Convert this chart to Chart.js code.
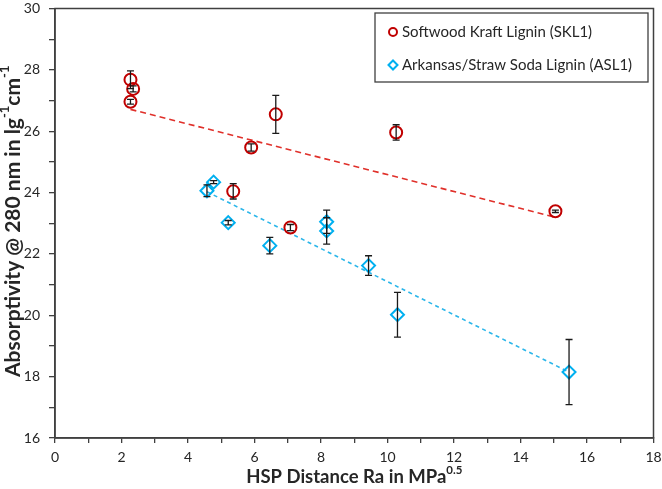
<!DOCTYPE html>
<html>
<head>
<meta charset="utf-8">
<script src="https://cdn.jsdelivr.net/npm/chart.js@4/dist/chart.umd.min.js"></script>
<style>
  html, body { margin: 0; padding: 0; background: #fff; }
  canvas { display: block; }
</style>
</head>
<body>
<canvas id="absChart" width="662" height="489"></canvas>
<script>
"use strict";

// Softwood Kraft Lignin (SKL1)
const sklX = [2.27, 2.35, 2.27, 5.90, 6.64, 5.36, 7.08, 10.26, 15.05];
const sklY = [27.68, 27.38, 26.96, 25.47, 26.55, 24.04, 22.86, 25.96, 23.39];
const sklErr = [0.29, 0.10, 0.08, 0.12, 0.62, 0.25, 0.10, 0.25, 0.04];

// Arkansas/Straw Soda Lignin (ASL1)
const aslX = [4.57, 4.77, 5.21, 6.46, 8.17, 8.17, 9.43, 10.30, 15.46];
const aslY = [24.06, 24.34, 23.02, 22.27, 23.05, 22.75, 21.62, 20.02, 18.15];
const aslErr = [0.19, 0.05, 0.07, 0.27, 0.38, 0.43, 0.32, 0.73, 1.06];

const seriesLabels = ["Softwood Kraft Lignin (SKL1)", "Arkansas/Straw Soda Lignin (ASL1)"];
const xTicks = [0, 2, 4, 6, 8, 10, 12, 14, 16, 18];
const yTicks = [16, 18, 20, 22, 24, 26, 28, 30];

const FONT = "Lato, 'Open Sans', sans-serif";

// linear trendline over the data range (like Excel)
function trend(xs, ys) {
  const n = xs.length;
  const mx = xs.reduce((a, b) => a + b, 0) / n;
  const my = ys.reduce((a, b) => a + b, 0) / n;
  let sxy = 0, sxx = 0;
  for (let i = 0; i < n; i++) {
    sxy += (xs[i] - mx) * (ys[i] - my);
    sxx += (xs[i] - mx) * (xs[i] - mx);
  }
  const m = sxy / sxx;
  const lo = Math.min(...xs), hi = Math.max(...xs);
  return [{ x: lo, y: my + m * (lo - mx) }, { x: hi, y: my + m * (hi - mx) }];
}

const pts = (xs, ys) => xs.map((x, i) => ({ x: x, y: ys[i] }));

// error bars, drawn through the scales
const errorBars = {
  id: "errorBars",
  afterDatasetsDraw(chart) {
    const { ctx, scales: { x, y } } = chart;
    ctx.save();
    ctx.strokeStyle = "#1a1a1a";
    ctx.lineWidth = 1.3;
    chart.data.datasets.forEach((ds) => {
      if (!ds.errors) return;
      ds.data.forEach((p, i) => {
        const px = x.getPixelForValue(p.x);
        const top = y.getPixelForValue(p.y + ds.errors[i]);
        const bot = y.getPixelForValue(p.y - ds.errors[i]);
        ctx.beginPath();
        ctx.moveTo(px, top); ctx.lineTo(px, bot);
        ctx.moveTo(px - 3.5, top); ctx.lineTo(px + 3.5, top);
        ctx.moveTo(px - 3.5, bot); ctx.lineTo(px + 3.5, bot);
        ctx.stroke();
      });
    });
    ctx.restore();
  },
};

// text with superscript parts
function drawRich(ctx, parts, size) {
  let w = 0;
  parts.forEach((p) => {
    ctx.font = `bold ${p.sup ? size * 0.62 : size}px ${FONT}`;
    w += ctx.measureText(p.t).width;
  });
  let cx = -w / 2;
  parts.forEach((p) => {
    ctx.font = `bold ${p.sup ? size * 0.62 : size}px ${FONT}`;
    ctx.fillText(p.t, cx, p.sup ? -size * 0.38 : 0);
    cx += ctx.measureText(p.t).width;
  });
}

const frameAndText = {
  id: "frameAndText",
  afterDraw(chart) {
    const { ctx, chartArea: a } = chart;
    ctx.save();
    // plot box
    ctx.strokeStyle = "#404040";
    ctx.lineWidth = 1.5;
    ctx.strokeRect(a.left, a.top, a.right - a.left, a.bottom - a.top);

    // axis titles
    ctx.fillStyle = "#262626";
    ctx.textBaseline = "middle";
    ctx.textAlign = "left";
    ctx.save();
    ctx.translate((a.left + a.right) / 2, 477);
    drawRich(ctx, [{ t: "HSP Distance Ra in MPa" }, { t: "0.5", sup: true }], 18.5);
    ctx.restore();
    ctx.save();
    ctx.translate(13, (a.top + a.bottom) / 2 - 2);
    ctx.rotate(-Math.PI / 2);
    drawRich(ctx, [
      { t: "Absorptivity @ 280 nm in lg" }, { t: "-1", sup: true },
      { t: "cm" }, { t: "-1", sup: true },
    ], 21);
    ctx.restore();

    // legend
    const lx = 375, ly = 13, lw = 273, lh = 69;
    ctx.fillStyle = "#fff";
    ctx.fillRect(lx, ly, lw, lh);
    ctx.strokeStyle = "#404040";
    ctx.lineWidth = 1.3;
    ctx.strokeRect(lx, ly, lw, lh);
    const rows = [32, 65];
    chart.data.datasets.slice(0, 2).forEach((ds, i) => {
      ctx.lineWidth = 2;
      ctx.strokeStyle = ds.borderColor;
      ctx.fillStyle = "rgba(0,0,0,0)";
      Chart.helpers.drawPoint(ctx, { pointStyle: ds.pointStyle, radius: ds.pointStyle === "circle" ? 4 : 4.5, rotation: 0, borderWidth: 2 }, 393, rows[i]);
      ctx.fillStyle = "#262626";
      ctx.font = `15px ${FONT}`;
      ctx.textAlign = "left";
      ctx.fillText(ds.label, 402, rows[i]);
    });
    ctx.restore();
  },
};

const tickOpts = (list) => ({
  stepSize: 1,
  autoSkip: false,
  maxRotation: 0,
  color: "#262626",
  font: { family: FONT, size: 14 },
  callback: (v) => (list.includes(v) ? String(v) : ""),
});

new Chart(document.getElementById("absChart").getContext("2d"), {
  type: "scatter",
  data: {
    datasets: [
      {
        label: seriesLabels[0],
        data: pts(sklX, sklY),
        errors: sklErr,
        pointStyle: "circle",
        pointRadius: 6,
        borderWidth: 2,
        borderColor: "#C00000",
        backgroundColor: "rgba(0,0,0,0)",
        order: 1,
      },
      {
        label: seriesLabels[1],
        data: pts(aslX, aslY),
        errors: aslErr,
        pointStyle: "rectRot",
        pointRadius: 6.5,
        borderWidth: 2,
        borderColor: "#00B0F0",
        backgroundColor: "rgba(0,0,0,0)",
        order: 1,
      },
      {
        type: "line",
        label: "trend SKL1",
        data: trend(sklX, sklY),
        borderColor: "#E0302A",
        borderWidth: 1.6,
        borderDash: [6, 4],
        pointRadius: 0,
        fill: false,
        order: 2,
      },
      {
        type: "line",
        label: "trend ASL1",
        data: trend(aslX, aslY),
        borderColor: "#2BB6EA",
        borderWidth: 1.6,
        borderDash: [4, 3.5],
        pointRadius: 0,
        fill: false,
        order: 2,
      },
    ],
  },
  options: {
    responsive: false,
    animation: false,
    layout: { padding: { top: 5, right: 8, left: 0, bottom: 0 } },
    plugins: { legend: { display: false }, tooltip: { enabled: false } },
    scales: {
      x: {
        type: "linear",
        min: 0,
        max: 18,
        ticks: { ...tickOpts(xTicks), padding: 6 },
        grid: { drawOnChartArea: false, drawTicks: true, tickLength: 5, color: "#404040", lineWidth: 1.3 },
        border: { display: true, color: "#404040", width: 1.5 },
        afterFit: (s) => { s.height = 51; s.paddingLeft = 0; s.paddingRight = 0; },
      },
      y: {
        type: "linear",
        min: 16,
        max: 30,
        ticks: { ...tickOpts(yTicks), padding: 9 },
        grid: { drawOnChartArea: false, drawTicks: true, tickLength: 6, color: "#404040", lineWidth: 1.3 },
        border: { display: true, color: "#404040", width: 1.5 },
        afterFit: (s) => { s.width = 55; s.paddingTop = 0; s.paddingBottom = 0; },
      },
    },
  },
  plugins: [errorBars, frameAndText],
});
</script>
</body>
</html>
